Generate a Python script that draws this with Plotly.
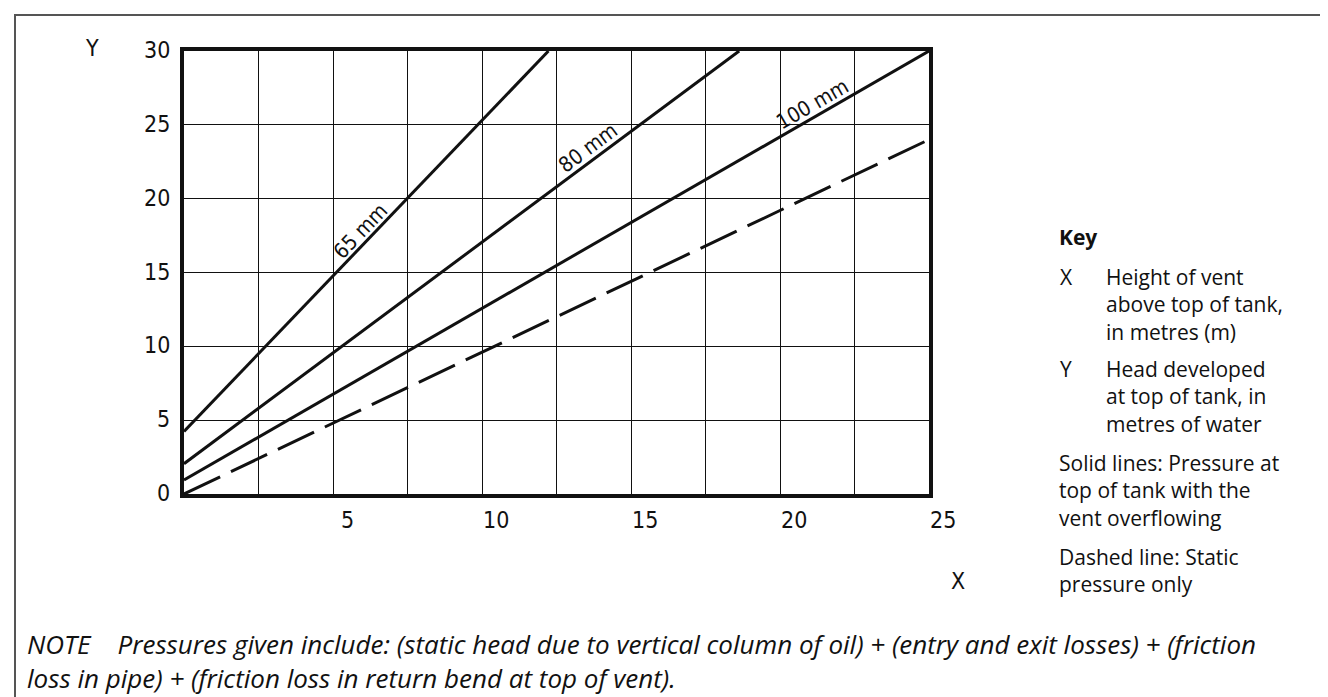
import math
import plotly.graph_objects as go

# ---------------- data ----------------
x_tick_vals = [5, 10, 15, 20, 25]
y_tick_vals = [0, 5, 10, 15, 20, 25, 30]

pipe_65_x = [0, 12.23]
pipe_65_y = [4.23, 30]
pipe_80_x = [0, 18.63]
pipe_80_y = [2.05, 30]
pipe_100_x = [0, 25]
pipe_100_y = [0.95, 30]
static_x = [0, 25]
static_y = [0, 24]

line_labels = ["65 mm", "80 mm", "100 mm"]
label_at_x = [6.2, 13.8, 21.3]

key_title = "Key"
key_x_text = ["Height of vent", "above top of tank,", "in metres (m)"]
key_y_text = ["Head developed", "at top of tank, in", "metres of water"]
key_solid = ["Solid lines: Pressure at", "top of tank with the", "vent overflowing"]
key_dashed = ["Dashed line: Static", "pressure only"]
note_lines = ["NOTE\u00a0\u00a0\u00a0\u00a0Pressures given include: (static head due to vertical column of oil) + (entry and exit losses) + (friction",
              "loss in pipe) + (friction loss in return bend at top of vent)."]

# ---------------- geometry (pixels) ----------------
W, H = 1328, 697
L, R, T, B = 176, 921, 43, 486
XMAX, YMAX = 25, 30


def px(xp):
    return (xp - L) / (R - L)


def py(yp):
    return (B - yp) / (B - T)


NARROW = "DejaVu Sans Condensed, Liberation Sans Narrow, Arial Narrow, sans-serif"
TICK_FONT = dict(family=NARROW, size=23, color="#111")
LABEL_FONT = dict(family=NARROW, size=21, color="#111")
KEY_FONT = dict(family="Open Sans, Noto Sans, sans-serif", size=21, color="#111")
NOTE_FONT = dict(family="Open Sans, Noto Sans, sans-serif", size=26, color="#111", style="italic")

fig = go.Figure()

series = [
    (pipe_65_x, pipe_65_y, "solid"),
    (pipe_80_x, pipe_80_y, "solid"),
    (pipe_100_x, pipe_100_y, "solid"),
    (static_x, static_y, "40px,12px"),
]
for xs, ys, dash in series:
    fig.add_trace(go.Scatter(x=xs, y=ys, mode="lines", showlegend=False, hoverinfo="skip",
                             line=dict(color="#111", width=3, dash=dash)))

annotations = []

# line labels, rotated along lines
sx = (R - L) / XMAX
sy = (B - T) / YMAX
offsets = [11, 12, 12]
for (xs, ys, _), text, lx, off in zip(series[:3], line_labels, label_at_x, offsets):
    slope = (ys[1] - ys[0]) / (xs[1] - xs[0])
    ly = ys[0] + slope * (lx - xs[0])
    ang = math.atan(slope * sy / sx)
    annotations.append(dict(x=lx, y=ly, xref="x", yref="y", text=text, showarrow=False,
                            textangle=-math.degrees(ang), font=LABEL_FONT,
                            xanchor="center", yanchor="middle",
                            xshift=-off * math.sin(ang), yshift=off * math.cos(ang)))

# tick labels
for v in x_tick_vals:
    annotations.append(dict(x=v, y=0, xref="x", yref="y", text=str(v), showarrow=False,
                            font=TICK_FONT, xanchor="center", yanchor="middle",
                            xshift=14, yshift=-26))
for v in y_tick_vals:
    annotations.append(dict(x=0, y=v, xref="x", yref="y", text=str(v), showarrow=False,
                            font=TICK_FONT, xanchor="right", yanchor="middle",
                            xshift=-12, yshift=1))

# axis letters
annotations.append(dict(x=px(84), y=py(40), xref="paper", yref="paper", text="Y", showarrow=False,
                        font=TICK_FONT, xanchor="center", yanchor="middle"))
annotations.append(dict(x=px(950), y=py(573), xref="paper", yref="paper", text="X", showarrow=False,
                        font=TICK_FONT, xanchor="center", yanchor="middle"))


def text_block(xp, y_first, lines, font):
    # y_first: centre of first line (px); block is placed by its top edge
    lh = 1.3 * font["size"]
    return dict(x=px(xp), y=py(y_first - lh / 2), xref="paper", yref="paper",
                text="<br>".join(lines), showarrow=False, font=font,
                xanchor="left", yanchor="top", align="left", borderpad=0)


# key
annotations.append(text_block(1050, 228, ["<b>" + key_title + "</b>"], KEY_FONT))
for letter, lines, y0 in [("X", key_x_text, 268), ("Y", key_y_text, 360)]:
    annotations.append(text_block(1051, y0, [letter], KEY_FONT))
    annotations.append(text_block(1097, y0, lines, KEY_FONT))
for lines, y0 in [(key_solid, 454), (key_dashed, 548)]:
    annotations.append(text_block(1050, y0, lines, KEY_FONT))

# note
annotations.append(text_block(18, 634, note_lines, NOTE_FONT))

shapes = [dict(type="rect", xref="paper", yref="paper", x0=px(7), x1=px(1345), y0=py(720), y1=py(7),
               line=dict(color="#555", width=2), fillcolor="rgba(0,0,0,0)", layer="below")]

axis_common = dict(showgrid=True, gridcolor="#111", gridwidth=1.3, zeroline=False,
                   showline=True, linecolor="#111", linewidth=3.5, mirror=True,
                   showticklabels=False, ticks="", fixedrange=True)

fig.update_layout(
    width=W, height=H, autosize=False,
    margin=dict(l=L, r=W - R, t=T, b=H - B, pad=0),
    paper_bgcolor="white", plot_bgcolor="white",
    xaxis=dict(range=[0, XMAX], dtick=2.5, tick0=0, **axis_common),
    yaxis=dict(range=[0, YMAX], dtick=5, tick0=0, **axis_common),
    annotations=annotations, shapes=shapes, showlegend=False,
)

fig.write_html("out.html")
